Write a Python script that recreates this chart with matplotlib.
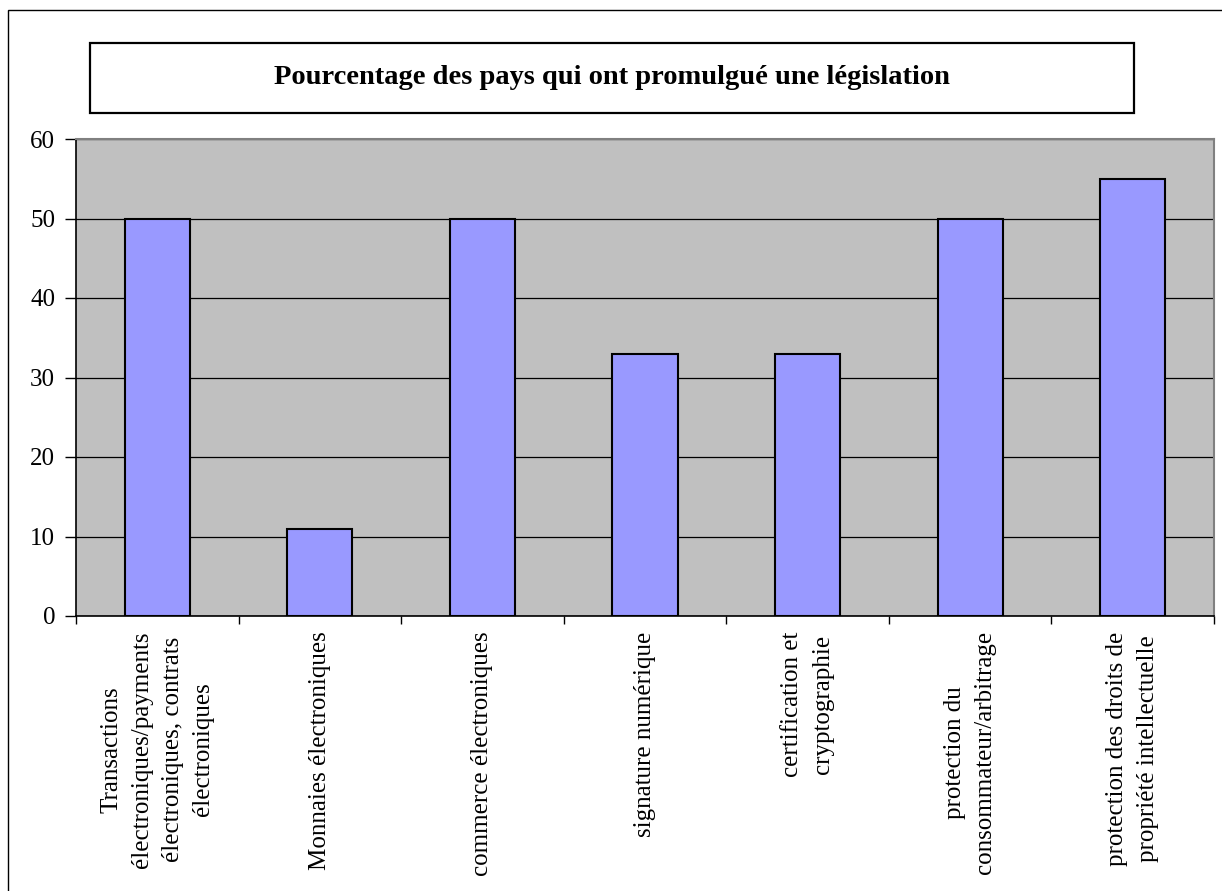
import matplotlib
matplotlib.use("Agg")
import matplotlib.pyplot as plt
from matplotlib.patches import Rectangle

plt.rcParams['font.family'] = ['Liberation Serif', 'DejaVu Serif']

categories = [
    "Transactions\nélectroniques/payments\nélectroniques, contrats\nélectroniques",
    "Monnaies électroniques",
    "commerce électroniques",
    "signature numérique",
    "certification et\ncryptographie",
    "protection du\nconsommateur/arbitrage",
    "protection des droits de\npropriété intellectuelle",
]
values = [50, 11, 50, 33, 33, 50, 55]
yticks = [0, 10, 20, 30, 40, 50, 60]
title = "Pourcentage des pays qui ont promulgué une législation"

W, H = 1222, 891
fig = plt.figure(figsize=(W / 100, H / 100), dpi=100)

# outer chart border
fig.patches.append(Rectangle((8 / W, -0.1), 1.2, 1 - 10 / H + 0.1, transform=fig.transFigure,
                             fill=False, edgecolor='black', linewidth=1.0))
# title box
fig.patches.append(Rectangle((90 / W, 1 - 113 / H), (1134 - 90) / W, 70 / H,
                             transform=fig.transFigure, facecolor='white',
                             edgecolor='black', linewidth=1.6))
fig.text(612 / W, 1 - 78 / H, title, ha='center', va='center', fontsize=20.5, fontweight='bold')

ax = fig.add_axes([76 / W, 1 - 616 / H, (1214 - 76) / W, (616 - 139) / H])
ax.set_facecolor('#C0C0C0')
x = list(range(len(values)))
ax.bar(x, values, width=0.4, color='#9999FF', edgecolor='black', linewidth=1.5, zorder=3)
ax.set_xlim(-0.5, len(values) - 0.5)
ax.set_ylim(0, 60)
ax.set_yticks(yticks)
ax.set_yticklabels([str(v) for v in yticks], fontsize=18)
ax.yaxis.grid(True, color='black', linewidth=0.9, zorder=1)
ax.set_axisbelow(True)

ax.set_xticks([i + 0.5 for i in range(-1, len(values))], minor=False)
ax.set_xticklabels([])
ax.set_xticks(x, minor=True)
ax.set_xticklabels(categories, minor=True, rotation=90, fontsize=18,
                   ha='center', va='top', multialignment='center')
for t in ax.get_xticklabels(minor=True):
    t.set_linespacing(1.5)
ax.tick_params(axis='x', which='minor', length=0, pad=11)
ax.tick_params(axis='x', which='major', length=6, width=1, color='black', direction='out')
ax.tick_params(axis='y', length=8, width=1, direction='out', pad=7)

for s in ['top', 'right']:
    ax.spines[s].set_color('#808080')
    ax.spines[s].set_linewidth(1.5)
for s in ['left', 'bottom']:
    ax.spines[s].set_color('black')
    ax.spines[s].set_linewidth(1.2)

fig.savefig('out.png', dpi=100)
